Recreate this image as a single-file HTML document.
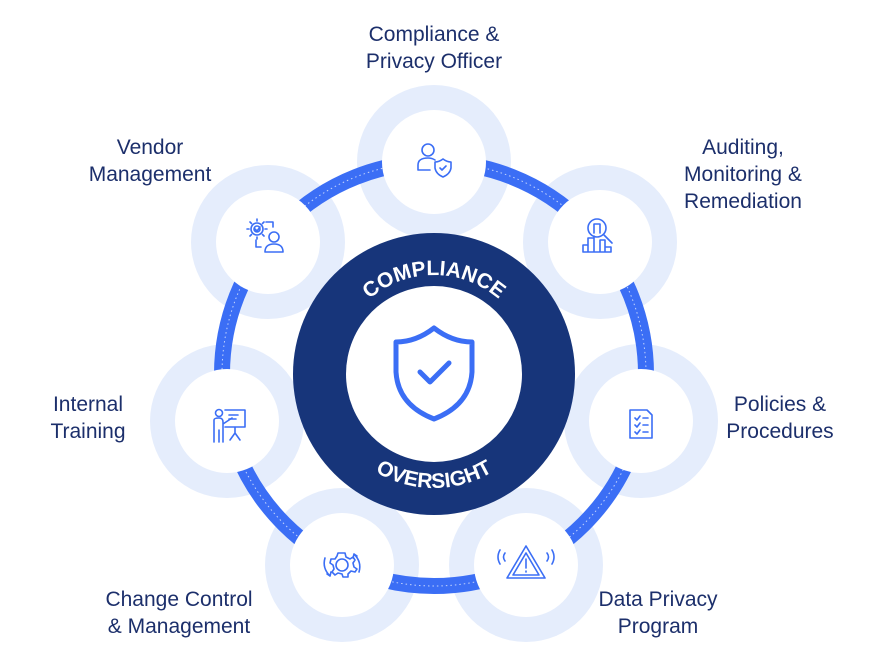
<!DOCTYPE html>
<html><head><meta charset="utf-8"><style>
html,body{margin:0;padding:0;background:#fff;}
svg{display:block;}
.lb{font-family:"Liberation Sans",sans-serif;font-size:21px;fill:#1c2f6b;text-anchor:middle;}
.ic{fill:none;stroke:#3b6ef5;stroke-width:1.6;stroke-linecap:round;stroke-linejoin:round;}
</style></head><body>
<svg width="884" height="671" viewBox="0 0 884 671">
<defs>
<path id="topArc" d="M 335 374 A 99 99 0 0 1 533 374"/>
<path id="botArc" d="M 320 374 A 114 114 0 0 0 548 374"/>
</defs>
<g fill="#e5edfc">
<circle cx="434" cy="162" r="77"/>
<circle cx="600" cy="242" r="77"/>
<circle cx="641" cy="421" r="77"/>
<circle cx="526" cy="565" r="77"/>
<circle cx="342" cy="565" r="77"/>
<circle cx="227" cy="421" r="77"/>
<circle cx="268" cy="242" r="77"/>
</g>
<circle cx="434" cy="374" r="212" fill="none" stroke="#3b6ef5" stroke-width="16"/>
<circle cx="434" cy="374" r="212" fill="none" stroke="#fff" stroke-opacity="0.7" stroke-width="1" stroke-dasharray="1.5 3"/>
<g fill="#fff">
<circle cx="434" cy="162" r="52"/>
<circle cx="600" cy="242" r="52"/>
<circle cx="641" cy="421" r="52"/>
<circle cx="526" cy="565" r="52"/>
<circle cx="342" cy="565" r="52"/>
<circle cx="227" cy="421" r="52"/>
<circle cx="268" cy="242" r="52"/>
</g>
<circle cx="434" cy="374" r="141" fill="#17357a"/>
<circle cx="434" cy="374" r="88" fill="#fff"/>
<text font-family="Liberation Sans,sans-serif" font-weight="bold" font-size="21" fill="#fff"><textPath href="#topArc" startOffset="50%" text-anchor="middle">COMPLIANCE</textPath></text>
<text font-family="Liberation Sans,sans-serif" font-weight="bold" font-size="21" fill="#fff"><textPath href="#botArc" startOffset="50%" text-anchor="middle">OVERSIGHT</textPath></text>
<path d="M434 328 Q452 342 472 342 L472 372 Q470 405 434 419 Q398 405 396 372 L396 342 Q416 342 434 328 Z" fill="none" stroke="#3b6ef5" stroke-width="5" stroke-linejoin="round"/>
<path d="M420 372 L430 382 L449 363" fill="none" stroke="#3b6ef5" stroke-width="5" stroke-linecap="round" stroke-linejoin="round"/>
<g class="ic">
<circle cx="428" cy="150" r="6"/>
<path d="M418 170 L418 165 Q418 158 428 158 Q432 158 435 160 M418 170 L430 170"/>
<path d="M443 159 Q447 162 451 162 L451 168 Q450 174 443 177 Q436 174 435 168 L435 162 Q439 162 443 159Z"/>
<path d="M440 168 L442 170 L446 166"/>
<circle cx="597" cy="228" r="9"/>
<path d="M604 235 L612 243"/>
<path d="M594 233 L594 224 L600 224 L600 233"/>
<path d="M583 252 L583 245 L588 245 L588 252 M588 252 L588 238 L594 238 L594 252 M594 252 L594 236 M600 252 L600 240 L605 240 L605 252 M605 252 L611 252 L611 247 L605 247 M583 252 L611 252"/>
<path d="M630 410 L647 410 L652 415 L652 438 L630 438 Z"/>
<path d="M635 418 L637 420 L640 416 M643 418 L648 418 M635 425 L637 427 L640 423 M643 425 L648 425 M635 432 L637 434 L640 430 M643 432 L648 432"/>
<path d="M526 546 L545 578 L507 578 Z"/>
<path d="M526 553 L539 575 L513 575 Z"/>
<path d="M526 559 L526 568 M526 571 L526 572"/>
<path d="M505 553 Q502 557 505 561 M500 550 Q496 557 500 564 M547 553 Q550 557 547 561 M552 550 Q556 557 552 564"/>
<circle cx="342" cy="565" r="6"/>
<path d="M342 553 L345 553 L346 557 L350 559 L353 557 L355 560 L353 563 L354 567 L357 569 L355 572 L351 571 L348 574 L348 577 L343 577 L342 574 L338 573 L335 575 L332 572 L334 569 L333 565 L330 563 L331 559 L335 559 L337 556 L338 553 Z"/>
<path d="M325 558 Q322 568 330 576 M327 574 L330 576 L331 572 M359 572 Q362 562 354 554 M357 556 L354 554 L353 558"/>
<circle cx="219" cy="413" r="3.5"/>
<path d="M214 442 L214 420 Q214 418 219 418 Q223 418 223 422 L223 442 M219 430 L219 442 M223 424 L232 418"/>
<path d="M225 410 L245 410 L245 427 L225 427 M235 427 L235 433 M230 440 L235 433 L240 440"/>
<path d="M229 415 L238 415 M229 419 L236 419"/>
<circle cx="257" cy="229" r="6"/>
<circle cx="257" cy="229" r="3"/>
<path d="M255 229 L257 231 L260 227"/>
<path d="M257 219 L257 221 M257 237 L257 239 M247 229 L249 229 M265 229 L267 229 M250 222 L251.5 223.5 M262.5 234.5 L264 236 M250 236 L251.5 234.5 M262.5 223.5 L264 222"/>
<circle cx="274" cy="237" r="5"/>
<path d="M265 252 Q265 244 274 244 Q283 244 283 252 Z"/>
<path d="M266 222 L273 222 L273 227 M256 240 L256 247 L261 247"/>
</g>
<text class="lb" x="434" y="41">Compliance &amp;</text>
<text class="lb" x="434" y="68">Privacy Officer</text>
<text class="lb" x="150" y="154">Vendor</text>
<text class="lb" x="150" y="181">Management</text>
<text class="lb" x="743" y="154">Auditing,</text>
<text class="lb" x="743" y="181">Monitoring &amp;</text>
<text class="lb" x="743" y="208">Remediation</text>
<text class="lb" x="88" y="411">Internal</text>
<text class="lb" x="88" y="438">Training</text>
<text class="lb" x="780" y="411">Policies &amp;</text>
<text class="lb" x="780" y="438">Procedures</text>
<text class="lb" x="179" y="606">Change Control</text>
<text class="lb" x="179" y="633">&amp; Management</text>
<text class="lb" x="658" y="606">Data Privacy</text>
<text class="lb" x="658" y="633">Program</text>
</svg>
</body></html>
